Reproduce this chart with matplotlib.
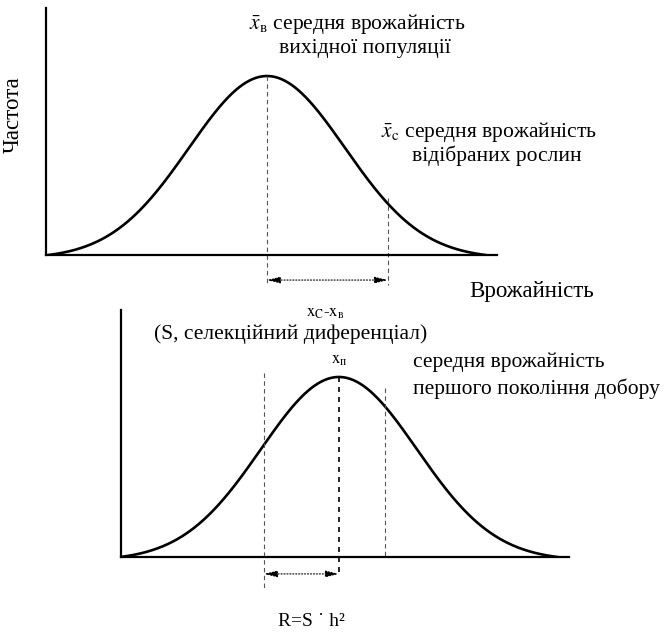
import numpy as np
import matplotlib
matplotlib.use('Agg')
import matplotlib.pyplot as plt

plt.rcParams['font.family'] = ['Liberation Serif', 'DejaVu Serif']
plt.rcParams['mathtext.fontset'] = 'stix'

# yield in units of sigma, measured from the source population mean
sigma = 1.0
mean_source = 0.0      # x_в
mean_selected = 1.55   # x_c
mean_offspring = 0.96  # x_п
tail = 2.8             # curves are drawn to +-2.8 sigma


def bell(mu):
    # normal curve scaled to peak 1 and dropped so the tails sit on the axis
    x = np.linspace(mu - tail * sigma, mu + tail * sigma, 400)
    g = np.exp(-(x - mu) ** 2 / (2 * sigma ** 2))
    g0 = np.exp(-tail ** 2 / 2)
    return x, (g - g0) / (1 - g0)


def px(x, y):
    # figure fraction from pixel position
    return x / 670, 1 - y / 632


fig = plt.figure(figsize=(6.7, 6.32), dpi=100)

ax1 = fig.add_axes([46 / 670, 1 - 255 / 632, 451 / 670, 247 / 632])
ax2 = fig.add_axes([121 / 670, 1 - 557 / 632, 448 / 670, 247 / 632])

for ax in (ax1, ax2):
    for s in ('top', 'right'):
        ax.spines[s].set_visible(False)
    for s in ('left', 'bottom'):
        ax.spines[s].set_linewidth(1.6)
    ax.set_xticks([])
    ax.set_yticks([])
    ax.patch.set_alpha(0)

arrow = dict(arrowstyle='<|-|>,head_length=0.8,head_width=0.2',
             color='black', lw=0.8, ls=':', shrinkA=0, shrinkB=0)
dash = dict(color='#555555', lw=0.8, dashes=(4, 3), clip_on=False)

# ---- top panel: source population
ax1.set_xlim(-2.833, 2.949)
ax1.set_ylim(0, 1.38)
x, y = bell(mean_source)
ax1.plot(x, y, color='black', lw=1.9)
ax1.plot([mean_source, mean_source], [1.0, -0.17], **dash)
ax1.plot([mean_selected, mean_selected], [0.32, -0.17], **dash)
ax1.annotate('', xy=(mean_selected, -0.14), xytext=(mean_source, -0.14),
             annotation_clip=False, arrowprops=arrow)

# ---- bottom panel: first generation of selection
ax2.set_xlim(-1.833, 3.91)
ax2.set_ylim(0, 1.372)
x, y = bell(mean_offspring)
ax2.plot(x, y, color='black', lw=1.9)
ax2.plot([mean_source, mean_source], [1.02, -0.18], **dash)
ax2.plot([mean_selected, mean_selected], [0.94, 0.0], **dash)
ax2.plot([mean_offspring, mean_offspring], [1.0, -0.11], color='black',
         lw=1.2, dashes=(3, 3), clip_on=False)
ax2.annotate('', xy=(mean_offspring, -0.094), xytext=(mean_source, -0.094),
             annotation_clip=False, arrowprops=arrow)

# ---- labels
big = 15.5
fig.text(*px(249, 24), r'$\bar{x}_{\mathrm{в}}$ середня врожайність', fontsize=big,
         ha='left', va='center')
fig.text(*px(365, 48), 'вихідної популяції', fontsize=big, ha='center', va='center')
fig.text(*px(381, 132), r'$\bar{x}_{\mathrm{c}}$ середня врожайність', fontsize=big,
         ha='left', va='center')
fig.text(*px(497, 156), 'відібраних рослин', fontsize=big, ha='center', va='center')
fig.text(*px(13, 115), 'Частота', fontsize=16.5, rotation=90, ha='center', va='center')
fig.text(*px(532, 292), 'Врожайність', fontsize=16.5, ha='center', va='center')
fig.text(*px(325, 313), r'$\mathrm{x_C}$-$\mathrm{x_в}$', fontsize=12,
         ha='center', va='center')
fig.text(*px(291, 334), '(S, селекційний диференціал)', fontsize=big,
         ha='center', va='center')
fig.text(*px(339, 360), r'$\mathrm{x_п}$', fontsize=12, ha='center', va='center')
fig.text(*px(413, 362), 'середня врожайність', fontsize=big, ha='left', va='center')
fig.text(*px(413, 389), 'першого покоління добору', fontsize=big, ha='left', va='center')
fig.text(*px(311, 621), 'R=S ˙ h²', fontsize=14, ha='center', va='center')

fig.savefig('out.png', dpi=100)
